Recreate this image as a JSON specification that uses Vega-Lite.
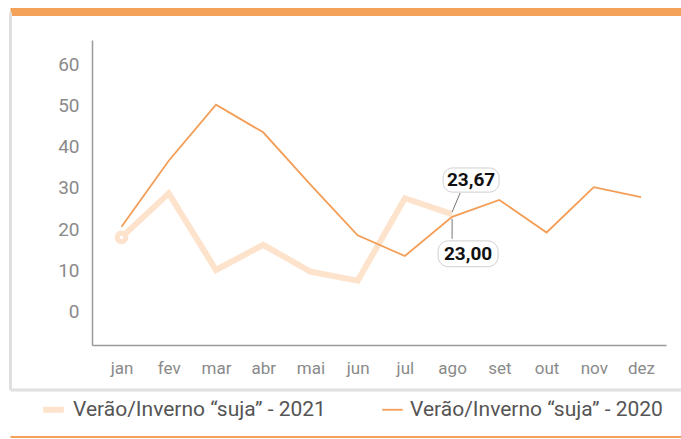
{
  "$schema": "https://vega.github.io/schema/vega-lite/v6.json",
  "width": 671,
  "height": 377.5,
  "autosize": {"type": "none"},
  "padding": {"left": 10, "top": 12, "right": 0, "bottom": 49.5},
  "background": "white",
  "config": {
    "locale": {"number": {"decimal": ",", "thousands": ".", "grouping": [3], "currency": ["R$", ""]}},
    "view": {"stroke": null},
    "font": "Roboto, Liberation Sans, sans-serif",
    "axis": {"minExtent": 0, "grid": false, "title": null}
  },
  "data": {
    "values": [
      {"mes": "jan", "n": 1, "serie": "Verão/Inverno “suja” - 2021", "valor": 18.0},
      {"mes": "fev", "n": 2, "serie": "Verão/Inverno “suja” - 2021", "valor": 28.7},
      {"mes": "mar", "n": 3, "serie": "Verão/Inverno “suja” - 2021", "valor": 10.1},
      {"mes": "abr", "n": 4, "serie": "Verão/Inverno “suja” - 2021", "valor": 16.2},
      {"mes": "mai", "n": 5, "serie": "Verão/Inverno “suja” - 2021", "valor": 9.7},
      {"mes": "jun", "n": 6, "serie": "Verão/Inverno “suja” - 2021", "valor": 7.5},
      {"mes": "jul", "n": 7, "serie": "Verão/Inverno “suja” - 2021", "valor": 27.5},
      {"mes": "ago", "n": 8, "serie": "Verão/Inverno “suja” - 2021", "valor": 23.67},
      {"mes": "jan", "n": 1, "serie": "Verão/Inverno “suja” - 2020", "valor": 20.6},
      {"mes": "fev", "n": 2, "serie": "Verão/Inverno “suja” - 2020", "valor": 36.6},
      {"mes": "mar", "n": 3, "serie": "Verão/Inverno “suja” - 2020", "valor": 50.2},
      {"mes": "abr", "n": 4, "serie": "Verão/Inverno “suja” - 2020", "valor": 43.5},
      {"mes": "mai", "n": 5, "serie": "Verão/Inverno “suja” - 2020", "valor": 30.8},
      {"mes": "jun", "n": 6, "serie": "Verão/Inverno “suja” - 2020", "valor": 18.5},
      {"mes": "jul", "n": 7, "serie": "Verão/Inverno “suja” - 2020", "valor": 13.5},
      {"mes": "ago", "n": 8, "serie": "Verão/Inverno “suja” - 2020", "valor": 23.0},
      {"mes": "set", "n": 9, "serie": "Verão/Inverno “suja” - 2020", "valor": 27.1},
      {"mes": "out", "n": 10, "serie": "Verão/Inverno “suja” - 2020", "valor": 19.2},
      {"mes": "nov", "n": 11, "serie": "Verão/Inverno “suja” - 2020", "valor": 30.2},
      {"mes": "dez", "n": 12, "serie": "Verão/Inverno “suja” - 2020", "valor": 27.8}
    ]
  },
  "layer": [
    {
      "encoding": {
        "x": {
          "field": "n", "type": "quantitative",
          "scale": {"domain": [0.375, 12.529], "range": [82, 656], "nice": false, "zero": false},
          "axis": {
            "orient": "bottom", "offset": -44.5, "values": [1,2,3,4,5,6,7,8,9,10,11,12],
            "labelExpr": "['jan','fev','mar','abr','mai','jun','jul','ago','set','out','nov','dez'][datum.value-1]",
            "domainColor": "#9a9a9a", "domainWidth": 1.5, "ticks": false, "tickSize": 0,
            "labelPadding": 15, "labelFontSize": 17, "labelColor": "#8a8a8a", "title": null, "grid": false,
            "labelFlush": false, "labelOverlap": false
          }
        },
        "y": {
          "field": "valor", "type": "quantitative",
          "scale": {"domain": [-8.1, 65.9], "range": [333, 28], "nice": false, "zero": false},
          "axis": {
            "orient": "left", "offset": -82, "values": [0,10,20,30,40,50,60],
            "domainColor": "#9a9a9a", "domainWidth": 1.5, "ticks": false, "tickSize": 0,
            "labelPadding": 13, "labelFontSize": 19, "labelColor": "#8a8a8a", "title": null, "grid": false
          }
        }
      },
      "layer": [
        {
          "transform": [{"filter": {"field": "serie", "equal": "Verão/Inverno “suja” - 2021"}}],
          "mark": {"type": "line", "strokeCap": "butt"},
          "encoding": {
            "color": {
              "field": "serie", "type": "nominal",
              "scale": {"domain": ["Verão/Inverno “suja” - 2021", "Verão/Inverno “suja” - 2020"], "range": ["#fde2cc", "#f39d56"]},
              "legend": {
                "title": null, "orient": "none", "direction": "horizontal", "legendX": 30, "legendY": 384,
                "symbolType": "stroke", "symbolSize": 420, "labelFontSize": 21, "labelColor": "#555555",
                "labelOffset": 6, "columnPadding": 52, "padding": 0, "labelLimit": 400
              }
            },
            "strokeWidth": {
              "field": "serie", "type": "nominal",
              "scale": {"domain": ["Verão/Inverno “suja” - 2021", "Verão/Inverno “suja” - 2020"], "range": [6, 1.8]}
            }
          }
        },
        {
          "transform": [{"filter": {"field": "serie", "equal": "Verão/Inverno “suja” - 2020"}}],
          "mark": {"type": "line"},
          "encoding": {
            "color": {
              "field": "serie", "type": "nominal",
              "scale": {"domain": ["Verão/Inverno “suja” - 2021", "Verão/Inverno “suja” - 2020"], "range": ["#fde2cc", "#f39d56"]}
            },
            "strokeWidth": {
              "field": "serie", "type": "nominal",
              "scale": {"domain": ["Verão/Inverno “suja” - 2021", "Verão/Inverno “suja” - 2020"], "range": [6, 1.8]}
            }
          }
        },
        {
          "transform": [{"filter": {"and": [{"field": "serie", "equal": "Verão/Inverno “suja” - 2021"}, {"field": "mes", "equal": "jan"}]}}],
          "mark": {"type": "point", "shape": "circle", "filled": true, "fill": "white", "stroke": "#fde2cc", "strokeWidth": 5, "size": 74, "opacity": 1}
        },
        {
          "transform": [{"filter": {"and": [{"field": "serie", "equal": "Verão/Inverno “suja” - 2021"}, {"field": "mes", "equal": "ago"}]}}],
          "mark": {"type": "rule", "color": "#777777", "strokeWidth": 1, "yOffset": -2, "x2Offset": 8, "y2Offset": -21},
          "encoding": {"x2": {"field": "n"}, "y2": {"field": "valor"}}
        },
        {
          "transform": [{"filter": {"and": [{"field": "serie", "equal": "Verão/Inverno “suja” - 2020"}, {"field": "mes", "equal": "ago"}]}}],
          "mark": {"type": "rule", "color": "#777777", "strokeWidth": 1, "yOffset": 2, "y2Offset": 22},
          "encoding": {"x2": {"field": "n"}, "y2": {"field": "valor"}}
        },
        {
          "transform": [{"filter": {"and": [{"field": "serie", "equal": "Verão/Inverno “suja” - 2021"}, {"field": "mes", "equal": "ago"}]}}],
          "mark": {"type": "point", "shape": "M -0.655 -0.431 L 0.655 -0.431 A 0.345 0.345 0 0 1 1 -0.086 L 1 0.086 A 0.345 0.345 0 0 1 0.655 0.431 L -0.655 0.431 A 0.345 0.345 0 0 1 -1 0.086 L -1 -0.086 A 0.345 0.345 0 0 1 -0.655 -0.431 Z", "filled": true, "fill": "white", "stroke": "#cfcfcf", "strokeWidth": 1, "size": 3136, "opacity": 1, "xOffset": 19, "yOffset": -34}
        },
        {
          "transform": [{"filter": {"and": [{"field": "serie", "equal": "Verão/Inverno “suja” - 2020"}, {"field": "mes", "equal": "ago"}]}}],
          "mark": {"type": "point", "shape": "M -0.655 -0.431 L 0.655 -0.431 A 0.345 0.345 0 0 1 1 -0.086 L 1 0.086 A 0.345 0.345 0 0 1 0.655 0.431 L -0.655 0.431 A 0.345 0.345 0 0 1 -1 0.086 L -1 -0.086 A 0.345 0.345 0 0 1 -0.655 -0.431 Z", "filled": true, "fill": "white", "stroke": "#cfcfcf", "strokeWidth": 1, "size": 3600, "opacity": 1, "xOffset": 16, "yOffset": 37}
        },
        {
          "transform": [{"filter": {"and": [{"field": "serie", "equal": "Verão/Inverno “suja” - 2021"}, {"field": "mes", "equal": "ago"}]}}],
          "mark": {"type": "text", "dx": 19, "dy": -34, "align": "center", "baseline": "middle", "fontSize": 19, "fontWeight": "bold", "color": "#111111"},
          "encoding": {"text": {"field": "valor", "type": "quantitative", "format": ".2f"}}
        },
        {
          "transform": [{"filter": {"and": [{"field": "serie", "equal": "Verão/Inverno “suja” - 2020"}, {"field": "mes", "equal": "ago"}]}}],
          "mark": {"type": "text", "dx": 16, "dy": 37, "align": "center", "baseline": "middle", "fontSize": 19, "fontWeight": "bold", "color": "#111111"},
          "encoding": {"text": {"field": "valor", "type": "quantitative", "format": ".2f"}}
        }
      ]
    },
    {
      "mark": {"type": "point", "opacity": 0},
      "encoding": {
        "x": {"field": "n", "type": "quantitative", "axis": {"orient": "bottom", "offset": 0, "domainColor": "#e0e0e0", "domainWidth": 3, "labels": false, "ticks": false, "grid": false, "title": null}},
        "y": {"field": "valor", "type": "quantitative", "axis": {"orient": "left", "offset": 0, "domainColor": "#e0e0e0", "domainWidth": 3, "labels": false, "ticks": false, "grid": false, "title": null}}
      }
    },
    {
      "mark": {"type": "point", "opacity": 0},
      "encoding": {
        "x": {"field": "n", "type": "quantitative", "axis": {"orient": "top", "offset": 0.5, "domainColor": "#f4a15a", "domainWidth": 8, "labels": false, "ticks": false, "grid": false, "title": null}}
      }
    },
    {
      "mark": {"type": "point", "opacity": 0},
      "encoding": {
        "x": {"field": "n", "type": "quantitative", "axis": {"orient": "bottom", "offset": 47, "domainColor": "#f4a15a", "domainWidth": 2, "labels": false, "ticks": false, "grid": false, "title": null}}
      }
    }
  ],
  "resolve": {"scale": {"x": "independent", "y": "independent"}, "axis": {"x": "independent", "y": "independent"}}
}
